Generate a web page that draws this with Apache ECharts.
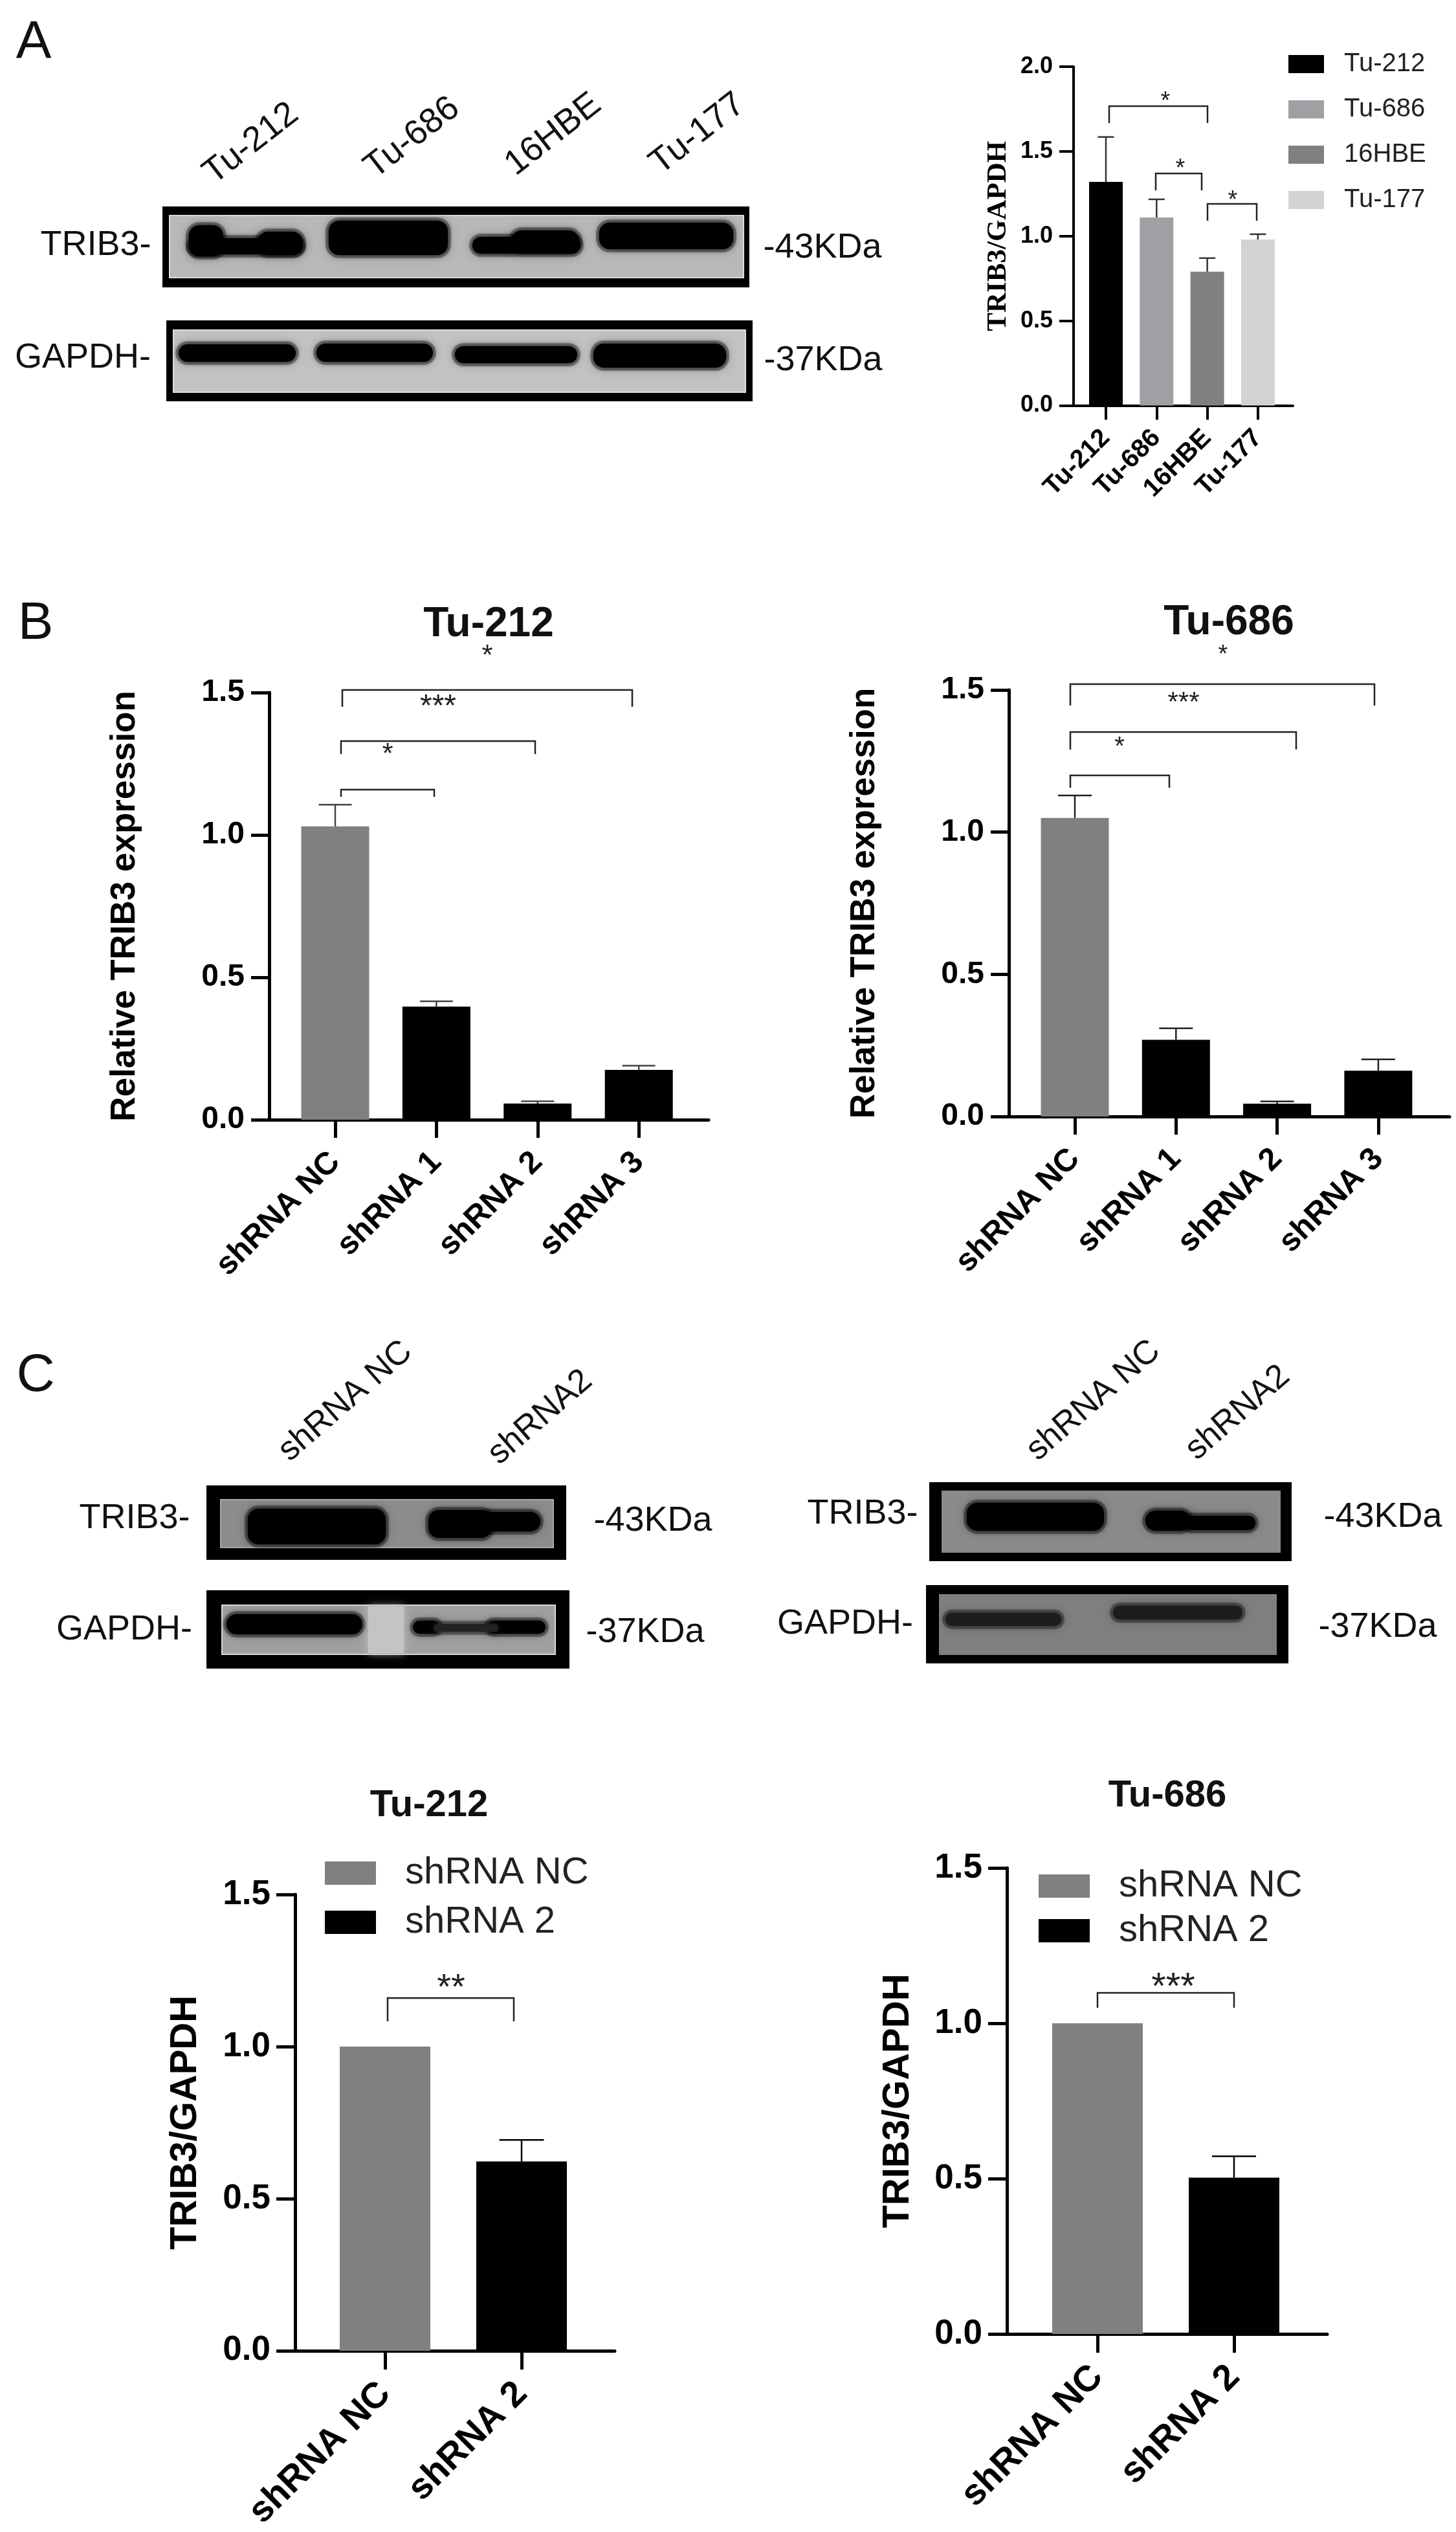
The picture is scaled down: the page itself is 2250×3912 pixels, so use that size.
<!DOCTYPE html>
<html><head><meta charset="utf-8">
<style>html,body{margin:0;padding:0;background:#fff}#c{width:2250px;height:3912px;filter:blur(0.7px)}</style>
<script src="https://cdn.jsdelivr.net/npm/echarts@6/dist/echarts.min.js"></script>
</head><body><div id="c"></div>
<script>
// ---------- data ----------
const catsA = ['Tu-212', 'Tu-686', '16HBE', 'Tu-177'];
const valsA = [1.32, 1.11, 0.79, 0.98];
const errTopA = [1.585, 1.217, 0.87, 1.011];
const catsB = ['shRNA NC', 'shRNA 1', 'shRNA 2', 'shRNA 3'];
const valsB212 = [1.03, 0.397, 0.057, 0.175];
const errTopB212 = [1.106, 0.416, 0.065, 0.19];
const valsB686 = [1.05, 0.27, 0.045, 0.161];
const errTopB686 = [1.129, 0.31, 0.053, 0.201];
const catsC = ['shRNA NC', 'shRNA 2'];
const valsC212 = [1.0, 0.622];
const errTopC212 = [null, 0.693];
const valsC686 = [1.0, 0.503];
const errTopC686 = [null, 0.572];

// ---------- layout ----------
const SANS = '"Liberation Sans", Arial, sans-serif';
const SERIF = '"Liberation Serif", "Times New Roman", serif';
const GREY = '#808080', BLACK = '#000000';
const coloursA = ['#000000', '#a0a0a4', '#808080', '#d3d3d3'];

const panels = [
  {cats:catsA, vals:valsA, errs:errTopA, max:2, left:1659, right:1998, top:103, bottom:626.5, first:1709, band:78.3,
   barW:52, capW:25, axisW:4, tickLen:22, tickFont:36, catFont:40, catMargin:44, labelMargin:32,
   yName:'TRIB3/GAPDH', yFont:43, yFamily:SERIF, yGap:95, errColour:'#333', errW:2.5, names:catsA, colours:coloursA},
  {cats:catsB, vals:valsB212, errs:errTopB212, max:1.5, left:416, right:1095, top:1070, bottom:1730, first:518, band:156.4,
   barW:105, capW:51, axisW:5, tickLen:28, tickFont:48, catFont:49, catMargin:58, labelMargin:38,
   yName:'Relative TRIB3 expression', yFont:53, yFamily:SANS, yGap:196, errColour:'#444', errW:2.5, single:'Tu-212 knockdown'},
  {cats:catsB, vals:valsB686, errs:errTopB686, max:1.5, left:1559, right:2240, top:1066, bottom:1725, first:1661, band:156.3,
   barW:105, capW:52, axisW:5, tickLen:28, tickFont:48, catFont:49, catMargin:58, labelMargin:38,
   yName:'Relative TRIB3 expression', yFont:53, yFamily:SANS, yGap:196, errColour:'#222', errW:2.5, single:'Tu-686 knockdown'},
  {cats:catsC, vals:valsC212, errs:errTopC212, max:1.5, left:456, right:950, top:2927, bottom:3636, first:595, band:211,
   barW:140, capW:69, axisW:5, tickLen:29, tickFont:53, catFont:56, catMargin:58, labelMargin:38,
   yName:'TRIB3/GAPDH', yFont:58, yFamily:SANS, yGap:140, errColour:'#000', errW:2.5, names:catsC, colours:[GREY, BLACK]},
  {cats:catsC, vals:valsC686, errs:errTopC686, max:1.5, left:1556, right:2051, top:2886, bottom:3606, first:1696, band:211,
   barW:140, capW:68, axisW:5, tickLen:29, tickFont:53, catFont:56, catMargin:58, labelMargin:38,
   yName:'TRIB3/GAPDH', yFont:58, yFamily:SANS, yGap:139, errColour:'#000', errW:2.5, names:catsC, colours:[GREY, BLACK]}
];

const titles = [
  {text:'Tu-212', x:755, y:965, size:64},
  {text:'Tu-686', x:1899, y:962, size:64},
  {text:'Tu-212', x:663, y:2790, size:58},
  {text:'Tu-686', x:1804, y:2775, size:58}
];

const legends = [
  {data:catsA, left:1991, top:79, w:55, h:28, gap:30, size:40, pad:26},
  {data:catsC, left:502, top:2865, w:79, h:36, gap:18, size:58, pad:40},
  {data:catsC, left:1605, top:2885, w:79, h:36, gap:11, size:58, pad:40}
];

// brackets: x1, x2, yTop, yDrop (pixels of the annotation)
const brackets = [
  [1714,1866,164,190],[1786,1857,268,294],[1866,1942,315,341],
  [529,977,1066,1092],[527,827,1145,1165],[527,671,1220,1231],
  [1654,2124,1057,1090],[1654,2003,1131,1158],[1654,1807,1198,1217],
  [599,794,3087,3123],[1696,1907,3079,3102]
];
const stars = [
  ['*',1801,149,38],['*',1824,253,38],['*',1905,302,38],
  ['*',753,1005,44],['***',677,1082,48],['*',599,1157,44],
  ['*',1890,1004,38],['***',1829,1077,42],['*',1730,1146,40],
  ['**',697,3060,56],['***',1813,3059,58]
];

// free text on the blots
const blotTexts = [
  ['A',52,62,82,0],['B',55,960,82,0],['C',55,2122,82,0],
  ['Tu-212',388,218,54,38],['Tu-686',637,209,54,38],['16HBE',855,204,54,38],['Tu-177',1078,203,54,38],
  ['TRIB3-',148,375,54,0],['GAPDH-',128,549,54,0],['-43KDa',1271,379,54,0],['-37KDa',1272,553,54,0],
  ['shRNA NC',534,2161,52,41],['shRNA2',835,2186,52,41],
  ['TRIB3-',208,2342,54,0],['GAPDH-',192,2514,54,0],['-43KDa',1009,2346,54,0],['-37KDa',997,2518,54,0],
  ['shRNA NC',1690,2160,52,41],['shRNA2',1913,2179,52,41],
  ['TRIB3-',1333,2335,54,0],['GAPDH-',1306,2505,54,0],['-43KDa',2137,2340,54,0],['-37KDa',2129,2510,54,0]
];

// blots: frame, inner window, window colour, dark band blobs [x1,y1,x2,y2,colour]
const blots = [
  {f:[251,319,1158,444], i:[262,333,1149,429], c:'#b8b8b8', rim:'#dcdcdc', b:[
    [292,348,345,396,'#000'],[292,368,468,393,'#000'],[398,358,468,394,'#000'],
    [508,341,692,394,'#000'],[730,366,897,392,'#000'],[790,356,895,388,'#000'],[926,344,1133,385,'#000']]},
  {f:[257,495,1163,620], i:[268,510,1152,606], c:'#c2c2c2', rim:'#e0e0e0', b:[
    [276,532,457,559,'#000'],[489,531,669,559,'#000'],[703,535,892,561,'#000'],[917,531,1122,568,'#000']]},
  {f:[319,2295,875,2410], i:[341,2317,855,2391], c:'#8c8c8c', rim:'#a8a8a8', b:[
    [383,2331,596,2386,'#000'],[662,2333,760,2376,'#000'],[740,2336,835,2366,'#000']]},
  {f:[319,2457,880,2578], i:[343,2480,858,2556], c:'#a0a0a0', rim:'#d8d8d8', b:[
    [569,2482,624,2554,'#c4c4c4'],[350,2494,560,2525,'#000'],[638,2504,680,2524,'#000'],[752,2504,843,2524,'#000'],[670,2509,770,2521,'#222']]},
  {f:[1436,2290,1996,2412], i:[1456,2304,1978,2398], c:'#8a8a8a', b:[
    [1494,2322,1706,2365,'#000'],[1770,2334,1840,2365,'#000'],[1830,2342,1940,2364,'#000']]},
  {f:[1431,2449,1991,2570], i:[1452,2464,1972,2556], c:'#7f7f7f', b:[
    [1461,2492,1640,2512,'#1c1c1c'],[1720,2481,1920,2502,'#1c1c1c']]}
];

// ---------- option assembly ----------
const grids = [], xAxes = [], yAxes = [], series = [];

function errRender(colour, lw, capW) {
  return function (params, api) {
    const top = api.coord([api.value(0), api.value(1)]);
    const base = api.coord([api.value(0), api.value(2)]);
    const st = {stroke: colour, lineWidth: lw, fill: 'none'};
    return {type:'group', children:[
      {type:'line', shape:{x1:top[0], y1:top[1], x2:top[0], y2:base[1]}, style:st},
      {type:'line', shape:{x1:top[0]-capW/2, y1:top[1], x2:top[0]+capW/2, y2:top[1]}, style:st}
    ]};
  };
}

panels.forEach((p, k) => {
  grids.push({left:p.left, top:p.top, width:p.right-p.left, height:p.bottom-p.top, containLabel:false});
  const idx = p.cats.map((_, i) => i);
  xAxes.push({
    gridIndex:k, type:'value',
    min:(p.left-p.first)/p.band, max:(p.right-p.first)/p.band,
    splitLine:{show:false},
    axisLine:{show:true, onZero:true, lineStyle:{color:'#000', width:p.axisW}},
    axisTick:{show:true, customValues:idx, length:p.tickLen, lineStyle:{color:'#000', width:p.axisW}},
    axisLabel:{customValues:idx, rotate:45, margin:p.catMargin, color:'#000',
      fontFamily:SANS, fontWeight:'bold', fontSize:p.catFont,
      formatter:(v) => p.cats[Math.round(v)]}
  });
  yAxes.push({
    gridIndex:k, type:'value', min:0, max:p.max, interval:0.5,
    splitLine:{show:false},
    axisLine:{show:true, onZero:false, lineStyle:{color:'#000', width:p.axisW}},
    axisTick:{show:true, length:p.tickLen, lineStyle:{color:'#000', width:p.axisW}},
    axisLabel:{margin:p.labelMargin, color:'#000', fontFamily:SANS, fontWeight:'bold', fontSize:p.tickFont,
      formatter:(v) => v.toFixed(1)},
    name:p.yName, nameLocation:'middle', nameRotate:90, nameGap:p.yGap,
    nameTextStyle:{fontFamily:p.yFamily, fontWeight:'bold', fontSize:p.yFont, color:'#000'}
  });
  if (p.names) {
    p.names.forEach((n, i) => series.push({
      type:'bar', name:n, xAxisIndex:k, yAxisIndex:k, stack:'p'+k, barWidth:p.barW,
      itemStyle:{color:p.colours[i]}, data:[[i, p.vals[i]]], z:2
    }));
  } else {
    series.push({
      type:'bar', name:p.single, xAxisIndex:k, yAxisIndex:k, barWidth:p.barW, z:2,
      data:p.vals.map((v, i) => ({value:[i, v], itemStyle:{color:i === 0 ? GREY : BLACK}}))
    });
  }
  series.push({
    type:'custom', name:'error '+k, xAxisIndex:k, yAxisIndex:k, z:1, clip:false,
    renderItem:errRender(p.errColour, p.errW, p.capW),
    encode:{x:0, y:1},
    data:p.errs.map((e, i) => e === null ? null : [i, e, p.vals[i]]).filter(Boolean)
  });
});

const elements = [];
function rectOf(r, style, grow) {
  const g = grow || 0;
  return {type:'rect', silent:true,
    shape:{x:r[0]-g, y:r[1]-g, width:r[2]-r[0]+2*g, height:r[3]-r[1]+2*g, r:Math.min((r[3]-r[1])/2, 16)+g},
    style};
}
blots.forEach(b => {
  const fr = rectOf(b.f, {fill:'#000'}); fr.shape.r = 0; elements.push(fr);
  const wn = rectOf(b.i, {fill:b.c, stroke:b.rim||b.c, lineWidth:2}); wn.shape.r = 0; elements.push(wn);
  b.b.forEach(d => {
    if (d[4] === '#000' || d[4] === '#1c1c1c' || d[4] === '#222')
      elements.push(rectOf(d, {fill:'rgba(0,0,0,0.30)', shadowBlur:16, shadowColor:'rgba(0,0,0,0.4)'}, 5));
  });
  b.b.forEach(d => {
    const light = d[4] === '#c4c4c4';
    const e = rectOf(d, {fill:d[4], shadowBlur:light ? 12 : 8, shadowColor:d[4]});
    if (light) e.shape.r = 0;
    elements.push(e);
  });
});
brackets.forEach(b => elements.push({
  type:'polyline', silent:true,
  shape:{points:[[b[0],b[3]],[b[0],b[2]],[b[1],b[2]],[b[1],b[3]]]},
  style:{stroke:'#222', lineWidth:2.5, fill:'none'}
}));
stars.forEach(s => elements.push({
  type:'text', silent:true, x:s[1], y:s[2]+0.22*s[3],
  style:{text:s[0], fill:'#222', font:s[3]+'px '+SANS, textAlign:'center', textVerticalAlign:'middle'}
}));
blotTexts.forEach(t => elements.push({
  type:'text', silent:true, x:t[1], y:t[2]+4, rotation:t[4]*Math.PI/180,
  style:{text:t[0], fill:'#111', font:t[3]+'px '+SANS, textAlign:'center', textVerticalAlign:'middle'}
}));

const option = {
  animation:false,
  backgroundColor:'#fff',
  title:titles.map(t => ({
    text:t.text, left:t.x, top:t.y, textAlign:'center', textVerticalAlign:'middle', padding:0,
    textStyle:{fontFamily:SANS, fontWeight:'bold', fontSize:t.size, color:'#111'}
  })),
  legend:legends.map(l => ({
    data:l.data, left:l.left, top:l.top, orient:'vertical', padding:0, icon:'rect',
    itemWidth:l.w, itemHeight:l.h, itemGap:l.gap, selectedMode:false,
    textStyle:{fontFamily:SANS, fontSize:l.size, color:'#222', padding:[0,0,0,l.pad]}
  })),
  grid:grids, xAxis:xAxes, yAxis:yAxes, series,
  graphic:{elements}
};
const chart = echarts.init(document.getElementById('c'), null, {renderer:'canvas', width:2250, height:3912});
chart.setOption(option);
</script></body></html>
